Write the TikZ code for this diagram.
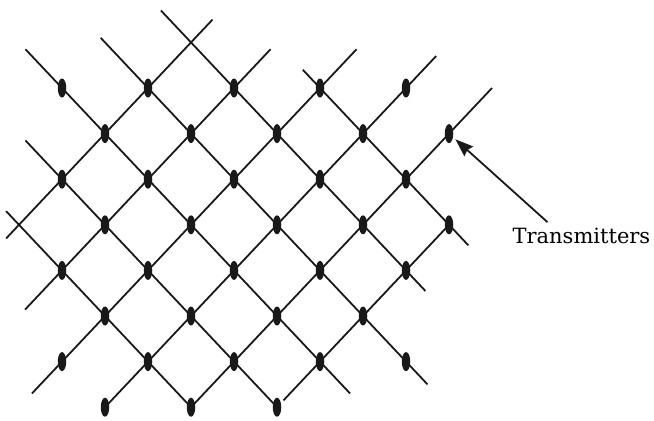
\documentclass[tikz,border=0pt]{standalone}
\usepackage{fontspec}
\setmainfont{DejaVu Serif}
\usetikzlibrary{shapes.geometric, arrows.meta}

\begin{document}
\begin{tikzpicture}[
  x=43pt, y=-45.6pt,
  tx/.style={ellipse, fill=black!90, inner sep=0pt, minimum width=8.5pt, minimum height=19pt},
  wire/.style={draw=black!90, line width=1.8pt},
  legend/.style={font=\fontsize{21}{25}\selectfont, inner sep=0pt},
  >={Stealth[length=18pt, width=13pt, inset=2pt]}
]
\useasboundingbox (-1.442,-1.930) rectangle (13.767,7.281);
\node[tx] (t00) at (0,0) {};
\node[tx] (t20) at (2,0) {};
\node[tx] (t40) at (4,0) {};
\node[tx] (t60) at (6,0) {};
\node[tx] (t80) at (8,0) {};
\node[tx] (t11) at (1,1) {};
\node[tx] (t31) at (3,1) {};
\node[tx] (t51) at (5,1) {};
\node[tx] (t71) at (7,1) {};
\node[tx] (t91) at (9,1) {};
\node[tx] (t02) at (0,2) {};
\node[tx] (t22) at (2,2) {};
\node[tx] (t42) at (4,2) {};
\node[tx] (t62) at (6,2) {};
\node[tx] (t82) at (8,2) {};
\node[tx] (t13) at (1,3) {};
\node[tx] (t33) at (3,3) {};
\node[tx] (t53) at (5,3) {};
\node[tx] (t73) at (7,3) {};
\node[tx] (t93) at (9,3) {};
\node[tx] (t04) at (0,4) {};
\node[tx] (t24) at (2,4) {};
\node[tx] (t44) at (4,4) {};
\node[tx] (t64) at (6,4) {};
\node[tx] (t84) at (8,4) {};
\node[tx] (t15) at (1,5) {};
\node[tx] (t35) at (3,5) {};
\node[tx] (t55) at (5,5) {};
\node[tx] (t75) at (7,5) {};
\node[tx] (t06) at (0,6) {};
\node[tx] (t26) at (2,6) {};
\node[tx] (t46) at (4,6) {};
\node[tx] (t66) at (6,6) {};
\node[tx] (t86) at (8,6) {};
\node[tx] (t17) at (1,7) {};
\node[tx] (t37) at (3,7) {};
\node[tx] (t57) at (5,7) {};
\node[legend] (label) at (12.08,3.25) {Transmitters};
\coordinate (ds1) at (-1.3,2.7);
\coordinate (ds2) at (-0.85,1.15);
\coordinate (ds3) at (-0.85,-0.85);
\coordinate (ds4) at (0.9,-1.1);
\coordinate (ds5) at (2.3,-1.7);
\coordinate (ds6) at (5.6,-0.4);
\coordinate (de3) at (6.7,6.7);
\coordinate (de4) at (8.5,6.5);
\coordinate (de5) at (8.45,4.45);
\coordinate (de6) at (9.45,3.45);
\coordinate (us1) at (-1.3,3.3);
\coordinate (us2) at (-0.86,4.86);
\coordinate (us3) at (-0.7,6.7);
\coordinate (us6) at (5.15,6.85);
\coordinate (ue1) at (3.5,-1.5);
\coordinate (ue2) at (4.85,-0.85);
\coordinate (ue3) at (6.85,-0.85);
\coordinate (ue4) at (8.7,-0.7);
\coordinate (ue5) at (10,0);
\draw[wire] (ds1) -- (t37.center);
\draw[wire] (ds2) -- (t57.center);
\draw[wire] (ds3) -- (de3);
\draw[wire] (ds4) -- (de4);
\draw[wire] (ds5) -- (de5);
\draw[wire] (ds6) -- (de6);
\draw[wire] (us1) -- (ue1);
\draw[wire] (us2) -- (ue2);
\draw[wire] (us3) -- (ue3);
\draw[wire] (t17.center) -- (ue4);
\draw[wire] (t37.center) -- (ue5);
\draw[wire] (us6) -- (t93.center);
\draw[wire, ->, shorten >=3pt] ([xshift=-34pt, yshift=6pt]label.north) -- (t91);
\end{tikzpicture}
\end{document}
